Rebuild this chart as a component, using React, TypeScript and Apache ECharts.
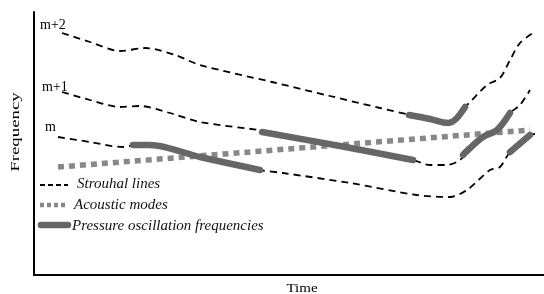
import React, { useEffect, useRef } from "react";
import * as echarts from "echarts";

// Data in arbitrary units: time 0..510, frequency 0..263
const strouhalM2: [number, number][] = [
  [28, 242], [56, 233], [86, 224], [111, 227], [141, 220], [166, 210], [238, 193],
  [296, 179], [346, 167], [376, 160], [411, 152], [431, 168], [453, 190], [466, 197],
  [476, 215], [486, 232], [499, 242],
];
const strouhalM1: [number, number][] = [
  [28, 183], [56, 175], [86, 168], [106, 169], [136, 162], [166, 153], [238, 143],
  [306, 129], [379, 115], [396, 110], [413, 110], [426, 115], [436, 127], [449, 138],
  [463, 145], [476, 162], [486, 170], [496, 185],
];
const strouhalM: [number, number][] = [
  [24, 138], [56, 133], [89, 128], [106, 131], [166, 118], [226, 105], [249, 102],
  [316, 92], [383, 80], [416, 78], [433, 85], [456, 105], [466, 108], [476, 123],
  [496, 140], [501, 141],
];
const acoustic: [number, number][] = [[24, 108], [496, 145]];
const pressure1: [number, number][] = [[99, 130], [116, 130], [166, 118], [226, 105]];
const pressure2: [number, number][] = [[228, 143], [306, 129], [379, 115]];
const pressure3: [number, number][] = [[375, 160], [396, 156], [414, 152], [422, 156], [431, 168]];
const pressure4: [number, number][] = [[429, 120], [436, 127], [449, 138], [463, 145], [476, 162]];
const pressure5: [number, number][] = [[476, 123], [496, 140]];

const modeLabels = ["m+2", "m+1", "m"];
const legendLabels = ["Strouhal lines", "Acoustic modes", "Pressure oscillation frequencies"];
const axisNames = ["Time", "Frequency"];

export default function App() {
  const ref = useRef<HTMLDivElement>(null);
  useEffect(() => {
    if (!ref.current) return;
    const chart = echarts.init(ref.current, undefined, { renderer: "svg" });
    const dashed = { color: "#000", width: 1.8, type: [7, 5] as number[] };
    const strouhal = (d: [number, number][]) => ({
      type: "line", data: d, smooth: 0.3, symbol: "none", lineStyle: dashed, z: 2,
    });
    const press = (d: [number, number][]) => ({
      type: "line", data: d, smooth: 0.3, symbol: "none",
      lineStyle: { color: "#666", width: 6.5, cap: "round", join: "round" }, z: 4,
    });
    const serif = "Liberation Serif";
    chart.setOption({
      animation: false,
      grid: { left: 34, right: 0, top: 12, bottom: 19 },
      xAxis: {
        type: "value", min: 0, max: 510,
        axisLine: { show: true, lineStyle: { color: "#000", width: 2 } },
        axisTick: { show: false }, axisLabel: { show: false }, splitLine: { show: false },
      },
      yAxis: {
        type: "value", min: 0, max: 263,
        axisLine: { show: true, lineStyle: { color: "#000", width: 2 } },
        axisTick: { show: false }, axisLabel: { show: false }, splitLine: { show: false },
      },
      series: [
        strouhal(strouhalM2), strouhal(strouhalM1), strouhal(strouhalM),
        {
          type: "line", data: acoustic, symbol: "none", z: 3,
          lineStyle: { color: "#888", width: 5.5, type: [6, 5], cap: "butt" },
        },
        press(pressure1), press(pressure2), press(pressure3), press(pressure4), press(pressure5),
      ],
      graphic: [
        { type: "text", x: 302, y: 288, scaleX: 1.25, style: { text: axisNames[0], font: `12px '${serif}'`, fill: "#000", align: "center", verticalAlign: "middle" } },
        { type: "text", x: 15, y: 132, rotation: Math.PI / 2, scaleX: 1.45, style: { text: axisNames[1], font: `13px '${serif}'`, fill: "#000", align: "center", verticalAlign: "middle" } },
        { type: "text", left: 40, top: 17, style: { text: modeLabels[0], font: `14px '${serif}'`, fill: "#000" } },
        { type: "text", left: 42, top: 79, style: { text: modeLabels[1], font: `14px '${serif}'`, fill: "#000" } },
        { type: "text", left: 45, top: 119, style: { text: modeLabels[2], font: `14px '${serif}'`, fill: "#000" } },
        { type: "line", shape: { x1: 40, y1: 185, x2: 68, y2: 185 }, style: { stroke: "#000", lineWidth: 2, lineDash: [5, 3] } },
        { type: "text", x: 77, y: 183, style: { text: legendLabels[0], font: `italic 15px '${serif}'`, fill: "#111", verticalAlign: "middle" } },
        { type: "line", shape: { x1: 40, y1: 205, x2: 66, y2: 205 }, style: { stroke: "#888", lineWidth: 4.5, lineDash: [4, 3] } },
        { type: "text", x: 74, y: 204, style: { text: legendLabels[1], font: `italic 15px '${serif}'`, fill: "#111", verticalAlign: "middle" } },
        { type: "line", shape: { x1: 41, y1: 225, x2: 68, y2: 225 }, style: { stroke: "#666", lineWidth: 6.5, lineCap: "round" } },
        { type: "text", x: 72, y: 225, style: { text: legendLabels[2], font: `italic 15px '${serif}'`, fill: "#111", verticalAlign: "middle" } },
      ],
    });
    return () => chart.dispose();
  }, []);
  return <div ref={ref} style={{ position: "fixed", left: 0, top: 0, width: 544, height: 294 }} />;
}
